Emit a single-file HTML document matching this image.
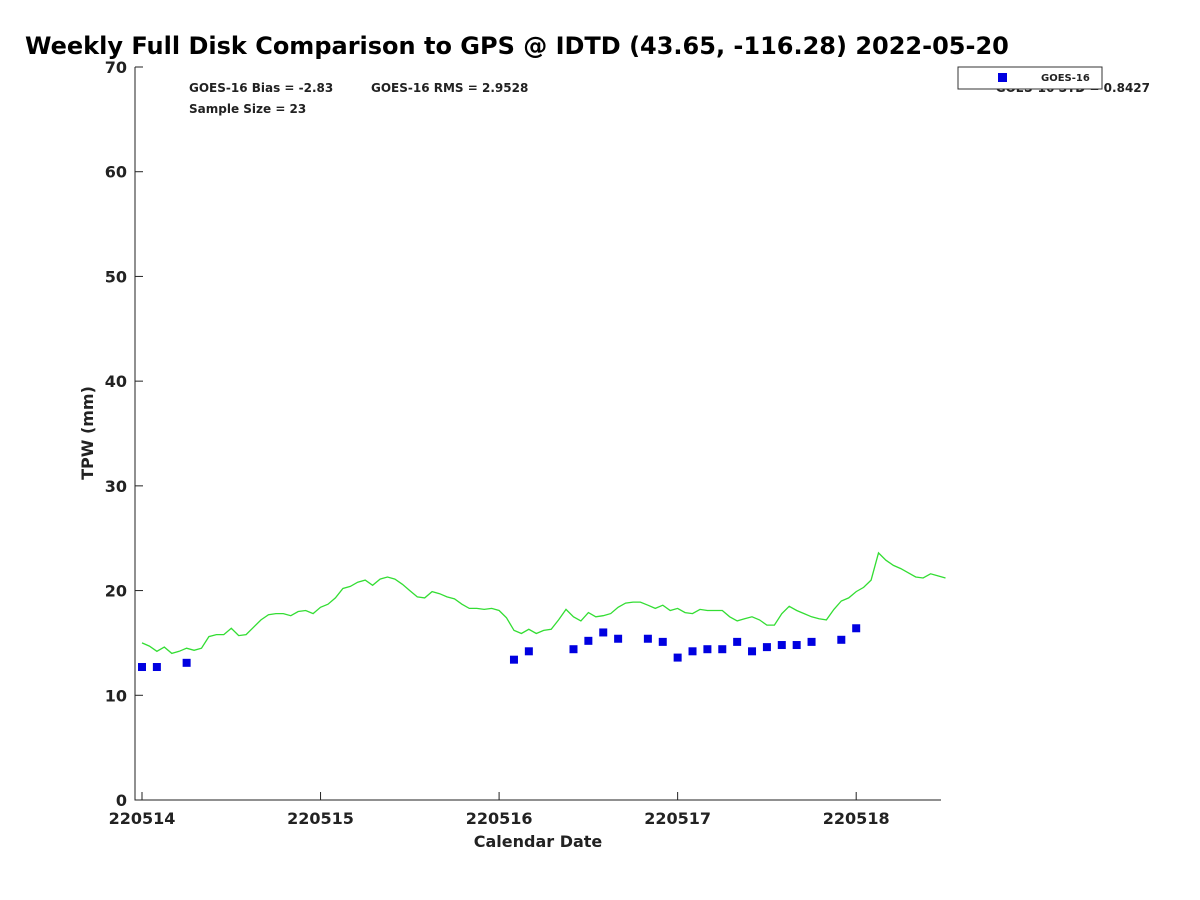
<!DOCTYPE html>
<html><head><meta charset="utf-8"><style>
body{margin:0;background:#fff}
svg{display:block;font-family:"DejaVu Sans","Liberation Sans",sans-serif}
</style></head><body>
<svg id="chart" width="1200" height="900" viewBox="0 0 1200 900">
<rect width="1200" height="900" fill="#fff"/>
<text x="25" y="54" font-size="24" font-weight="bold" fill="#000">Weekly Full Disk Comparison to GPS @ IDTD (43.65, -116.28) 2022-05-20</text>
<text x="189" y="92" font-size="12" font-weight="bold" fill="#222">GOES-16 Bias = -2.83</text>
<text x="371" y="92" font-size="12" font-weight="bold" fill="#222">GOES-16 RMS = 2.9528</text>
<text x="189" y="113" font-size="12" font-weight="bold" fill="#222">Sample Size = 23</text>
<text x="1150" y="92" font-size="12" font-weight="bold" fill="#222" text-anchor="end">GOES-16 STD = 0.8427</text>
<g id="plot"></g>
<g>
<rect x="958" y="67" width="144" height="22" fill="#fff" stroke="#333" stroke-width="1"/>
<rect x="998" y="73" width="9" height="9" fill="#0000e0"/>
<text x="1041" y="81" font-size="10" font-weight="bold" fill="#222">GOES-16</text>
</g>
<text x="538" y="847" font-size="16" font-weight="bold" fill="#222" text-anchor="middle">Calendar Date</text>
<text transform="translate(93,433) rotate(-90)" font-size="16" font-weight="bold" fill="#222" text-anchor="middle">TPW (mm)</text>
</svg>
<script>
// hours since 220514 00:00
const gpsValues = [15.0,14.7,14.2,14.6,14.0,14.2,14.5,14.3,14.5,15.6,15.8,15.8,16.4,15.7,15.8,16.5,17.2,17.7,17.8,17.8,17.6,18.0,18.1,17.8,18.4,18.7,19.3,20.2,20.4,20.8,21.0,20.5,21.1,21.3,21.1,20.6,20.0,19.4,19.3,19.9,19.7,19.4,19.2,18.7,18.3,18.3,18.2,18.3,18.1,17.4,16.2,15.9,16.3,15.9,16.2,16.3,17.2,18.2,17.5,17.1,17.9,17.5,17.6,17.8,18.4,18.8,18.9,18.9,18.6,18.3,18.6,18.1,18.3,17.9,17.8,18.2,18.1,18.1,18.1,17.5,17.1,17.3,17.5,17.2,16.7,16.7,17.8,18.5,18.1,17.8,17.5,17.3,17.2,18.2,19.0,19.3,19.9,20.3,21.0,23.6,22.9,22.4,22.1,21.7,21.3,21.2,21.6,21.4,21.2];
const goesHours = [0,2,6,50,52,58,60,62,64,68,70,72,74,76,78,80,82,84,86,88,90,94,96];
const goesValues = [12.7,12.7,13.1,13.4,14.2,14.4,15.2,16.0,15.4,15.4,15.1,13.6,14.2,14.4,14.4,15.1,14.2,14.6,14.8,14.8,15.1,15.3,16.4];
const xTickHours = [0,24,48,72,96];
const xTickLabels = ["220514","220515","220516","220517","220518"];
const yTicks = [0,10,20,30,40,50,60,70];

const L=135,R=941,T=67,B=800;
const xMin=-0.94,xMax=107.4,yMin=0,yMax=70;
const sx=h=>L+(h-xMin)/(xMax-xMin)*(R-L);
const sy=v=>B-(v-yMin)/(yMax-yMin)*(B-T);
const NS="http://www.w3.org/2000/svg";
const g=document.getElementById('plot');
function mk(t,a){const e=document.createElementNS(NS,t);for(const k in a)e.setAttribute(k,a[k]);g.appendChild(e);return e;}

const axes=mk('path',{d:`M${L},${T}V${B}H${R}`,fill:'none',stroke:'#222','stroke-width':1});


yTicks.forEach(v=>{
  const y=sy(v);
  const t=mk('line',{x1:L,x2:L+8,y1:y,y2:y,stroke:'#222'});
  
  
  const lb=mk('text',{x:L-8,y:y+6,'font-size':16,'font-weight':'bold',fill:'#222','text-anchor':'end'});
  lb.textContent=v;
  
  
});
xTickHours.forEach((h,i)=>{
  const x=sx(h);
  const t=mk('line',{x1:x,x2:x,y1:B,y2:B-8,stroke:'#222'});
  
  
  const lb=mk('text',{x:x,y:B+24,'font-size':16,'font-weight':'bold',fill:'#222','text-anchor':'middle'});
  lb.textContent=xTickLabels[i];
  
  
});
const pts=gpsValues.map((v,i)=>`${sx(i).toFixed(1)},${sy(v).toFixed(1)}`).join(' ');
const line=mk('polyline',{points:pts,fill:'none',stroke:'#33dd33','stroke-width':1.3});


goesHours.forEach((h,i)=>{
  const r=mk('rect',{x:sx(h)-4,y:sy(goesValues[i])-4,width:8,height:8,fill:'#0000e0'});
  
  
});
</script>
</body></html>
